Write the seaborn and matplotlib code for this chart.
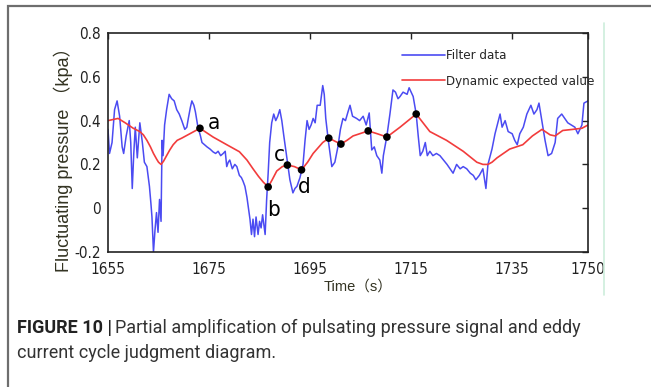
import os
import numpy as np
import pandas as pd
import seaborn as sns
import matplotlib
matplotlib.use("Agg")
import matplotlib.pyplot as plt
from matplotlib import font_manager as fm
from matplotlib.patches import Rectangle
from matplotlib.lines import Line2D

# filtered signal
t_filter = [1655.0, 1655.3, 1655.8, 1656.3, 1656.8, 1657.3, 1657.8, 1658.1, 1658.6, 1659.2,
            1659.5, 1659.8, 1660.1, 1660.4, 1660.8, 1661.3, 1661.8, 1662.2, 1662.7, 1663.2,
            1663.5, 1663.7, 1664.0, 1664.3, 1664.6, 1664.9, 1665.2, 1665.5, 1665.7, 1665.9,
            1666.2, 1666.6, 1667.1, 1667.6, 1668.1, 1668.6, 1669.1, 1669.6, 1670.2, 1670.6,
            1670.9, 1671.3, 1671.6, 1672.0, 1672.3, 1672.8, 1673.3, 1673.6, 1674.1, 1674.6,
            1675.2, 1675.8, 1676.3, 1676.8, 1677.3, 1677.8, 1678.2, 1678.5, 1678.8, 1679.1,
            1679.6, 1680.1, 1680.5, 1681.0, 1681.4, 1681.7, 1682.1, 1682.5, 1682.8, 1683.1,
            1683.4, 1683.7, 1684.0, 1684.3, 1684.7, 1685.0, 1685.3, 1685.6, 1686.1, 1686.4,
            1686.7, 1687.0, 1687.4, 1687.8, 1688.2, 1688.6, 1689.0, 1689.4, 1689.8, 1690.4,
            1691.0, 1691.6, 1692.0, 1692.4, 1693.0, 1693.6, 1694.0, 1694.4, 1694.8, 1695.2,
            1695.6, 1696.0, 1696.4, 1697.0, 1697.5, 1697.8, 1698.1, 1698.6, 1699.0, 1699.3,
            1699.9, 1700.5, 1701.0, 1701.5, 1702.0, 1702.5, 1702.9, 1703.4, 1704.2, 1704.8,
            1705.5, 1706.1, 1706.7, 1706.9, 1707.2, 1707.7, 1708.2, 1708.8, 1709.2, 1709.5,
            1710.2, 1710.8, 1711.4, 1711.9, 1712.4, 1712.8, 1713.4, 1714.2, 1714.6, 1715.4,
            1716.0, 1716.4, 1716.8, 1717.3, 1717.8, 1718.2, 1718.7, 1719.3, 1720.0, 1720.7,
            1721.4, 1722.1, 1722.7, 1723.3, 1724.0, 1724.7, 1725.3, 1726.0, 1726.7, 1727.3,
            1727.8, 1728.5, 1729.2, 1729.8, 1730.2, 1731.0, 1731.6, 1732.6, 1733.0, 1733.6,
            1734.2, 1735.0, 1735.5, 1736.0, 1736.5, 1737.2, 1737.9, 1738.7, 1739.3, 1739.9,
            1740.3, 1740.8, 1741.5, 1742.1, 1742.8, 1743.5, 1744.0, 1744.8, 1745.4, 1746.0,
            1746.7, 1747.4, 1748.0, 1748.8, 1749.2, 1750.0]
p_filter = [0.36, 0.25, 0.30, 0.45, 0.49, 0.42, 0.28, 0.25, 0.33, 0.40,
            0.30, 0.09, 0.25, 0.37, 0.23, 0.39, 0.30, 0.21, 0.19, 0.10,
            0.02, -0.04, -0.20, -0.10, -0.02, -0.11, 0.04, -0.06, 0.31, 0.24,
            0.38, 0.45, 0.52, 0.50, 0.49, 0.45, 0.43, 0.40, 0.36, 0.37,
            0.41, 0.46, 0.49, 0.47, 0.44, 0.37, 0.33, 0.30, 0.29, 0.28,
            0.27, 0.257, 0.25, 0.26, 0.24, 0.25, 0.26, 0.19, 0.21, 0.22,
            0.18, 0.20, 0.19, 0.15, 0.14, 0.125, 0.10, 0.05, 0.00, -0.05,
            -0.12, -0.05, -0.13, -0.04, -0.12, -0.06, -0.09, -0.03, -0.12, 0.04,
            0.16, 0.30, 0.39, 0.43, 0.40, 0.42, 0.45, 0.40, 0.33, 0.23,
            0.13, 0.07, 0.09, 0.10, 0.14, 0.20, 0.31, 0.40, 0.36, 0.38,
            0.41, 0.39, 0.47, 0.47, 0.56, 0.52, 0.41, 0.31, 0.24, 0.19,
            0.21, 0.28, 0.36, 0.41, 0.40, 0.44, 0.47, 0.42, 0.41, 0.40,
            0.42, 0.38, 0.435, 0.37, 0.266, 0.28, 0.24, 0.22, 0.16, 0.24,
            0.33, 0.43, 0.54, 0.53, 0.50, 0.51, 0.53, 0.52, 0.55, 0.51,
            0.43, 0.33, 0.24, 0.26, 0.30, 0.24, 0.26, 0.24, 0.25, 0.24,
            0.22, 0.20, 0.18, 0.16, 0.20, 0.18, 0.19, 0.18, 0.16, 0.15,
            0.13, 0.15, 0.18, 0.09, 0.20, 0.27, 0.34, 0.43, 0.37, 0.40,
            0.35, 0.34, 0.31, 0.29, 0.34, 0.37, 0.43, 0.47, 0.43, 0.45,
            0.48, 0.41, 0.31, 0.24, 0.25, 0.30, 0.41, 0.43, 0.41, 0.39,
            0.38, 0.37, 0.34, 0.38, 0.48, 0.49]

# dynamic expected value
t_expect = [1655.0, 1656.0, 1657.0, 1658.4, 1660.0, 1661.3, 1662.0, 1662.7, 1663.4, 1664.0,
            1664.6, 1665.0, 1665.5, 1666.0, 1666.6, 1667.2, 1667.9, 1668.7, 1669.6, 1671.2,
            1673.2, 1675.8, 1678.5, 1681.0, 1682.5, 1683.7, 1684.8, 1685.7, 1686.7, 1687.5,
            1688.4, 1689.5, 1690.5, 1691.9, 1693.3, 1694.5, 1695.6, 1697.5, 1698.7, 1700.0,
            1701.1, 1702.3, 1703.5, 1706.5, 1708.3, 1710.2, 1712.8, 1716.0, 1718.7, 1722.0,
            1725.3, 1728.0, 1729.2, 1730.2, 1731.0, 1732.0, 1734.5, 1737.1, 1739.0, 1740.9,
            1742.5, 1743.5, 1745.0, 1747.0, 1748.8, 1750.0]
p_expect = [0.40, 0.405, 0.41, 0.39, 0.365, 0.35, 0.335, 0.31, 0.28, 0.25,
            0.225, 0.21, 0.20, 0.215, 0.24, 0.265, 0.29, 0.31, 0.32, 0.34,
            0.365, 0.325, 0.29, 0.258, 0.22, 0.18, 0.145, 0.12, 0.097, 0.13,
            0.17, 0.19, 0.197, 0.19, 0.175, 0.21, 0.25, 0.30, 0.32, 0.305,
            0.293, 0.31, 0.33, 0.353, 0.34, 0.325, 0.37, 0.43, 0.35, 0.31,
            0.26, 0.21, 0.20, 0.20, 0.21, 0.23, 0.27, 0.29, 0.33, 0.36,
            0.335, 0.33, 0.355, 0.36, 0.365, 0.38]

# crossing points
t_cross = [1673.2, 1686.7, 1690.5, 1693.3, 1698.7, 1701.1, 1706.5, 1710.2, 1716.0]
p_cross = [0.365, 0.097, 0.197, 0.175, 0.32, 0.293, 0.353, 0.325, 0.43]
cross_labels = ["a", "b", "c", "d", "", "", "", "", ""]
label_offsets = [(14, 5), (5, -23), (-8, 10), (3, -17), None, None, None, None, None]

x_ticks = [1655, 1675, 1695, 1715, 1735, 1750]
y_ticks = [-0.2, 0, 0.2, 0.4, 0.6, 0.8]
y_ticklabels = ["-0.2", "0", "0.2", "0.4", "0.6", "0.8"]

sns.set_style("white")
plt.rcParams["font.family"] = ["Liberation Sans", "DejaVu Sans"]

# look for a condensed face for the MATLAB-like labels
narrow_path = None
for f in fm.fontManager.ttflist:
    base = os.path.basename(f.fname)
    if base in ("LiberationSansNarrow-Regular.ttf", "DejaVuSansCondensed.ttf"):
        narrow_path = f.fname
        break
if narrow_path:
    tick_fp = fm.FontProperties(fname=narrow_path, size=11)
    leg_fp = fm.FontProperties(fname=narrow_path, size=9.5)
    lab_fp = fm.FontProperties(fname=narrow_path, size=16)
else:
    tick_fp = fm.FontProperties(family="Liberation Sans", size=10.5)
    leg_fp = fm.FontProperties(family="Liberation Sans", size=9)
    lab_fp = fm.FontProperties(family="Liberation Sans", size=14)

fig = plt.figure(figsize=(6.51, 3.87), dpi=100)
ax = fig.add_axes([0.1659, 0.3488, 0.7373, 0.5659])

filt = pd.DataFrame({"t": t_filter, "p": p_filter})
expv = pd.DataFrame({"t": t_expect, "p": p_expect})
pts = pd.DataFrame({"t": t_cross, "p": p_cross})

sns.lineplot(data=filt, x="t", y="p", ax=ax, color="#4b4bf2", lw=1.1, sort=False)
sns.lineplot(data=expv, x="t", y="p", ax=ax, color="#f23c3c", lw=1.2, sort=False)
sns.scatterplot(data=pts, x="t", y="p", ax=ax, color="black", s=30, edgecolor="none", zorder=5)

for tx, py, lab, off in zip(t_cross, p_cross, cross_labels, label_offsets):
    if lab:
        ax.annotate(lab, (tx, py), xytext=off, textcoords="offset pixels",
                    fontproperties=lab_fp, color="black", va="center", ha="center")

ax.set_xlim(1655, 1750)
ax.set_ylim(-0.2, 0.8)
ax.set_xticks(x_ticks)
ax.set_yticks(y_ticks)
ax.set_yticklabels(y_ticklabels)
ax.tick_params(direction="in", length=4, width=1, top=True, right=True,
               colors="#222222", pad=5)
ax.tick_params(axis="x", pad=7)
for lbl in ax.get_xticklabels() + ax.get_yticklabels():
    lbl.set_fontproperties(tick_fp)
for s in ax.spines.values():
    s.set_color("#222222")
    s.set_linewidth(1.2)

ax.set_xlabel("Time（s）", fontsize=10.5, color="#333322",
              family=["Liberation Sans", "Noto Sans CJK SC"])
ax.xaxis.set_label_coords(0.52, -0.128)
ax.set_ylabel("Fluctuating pressure （kpa）", fontsize=13, color="#333322",
              family=["Liberation Sans", "Noto Sans CJK SC"])
ax.yaxis.set_label_coords(-0.072, 0.443)

handles = [Line2D([], [], color="#4b4bf2", lw=1.2), Line2D([], [], color="#f23c3c", lw=1.2)]
leg_px = leg_fp.get_size_in_points() * 100 / 72
ax.legend(handles, ["Filter data", "Dynamic expected value"], loc="upper left",
          bbox_to_anchor=(0.602, 0.95), frameon=False, prop=leg_fp,
          handlelength=43 / leg_px, handletextpad=0.05, labelspacing=0.95, borderaxespad=0)

# outer figure frame and side line
fig.add_artist(Rectangle((8 / 651, -0.1), 1.1, 1.1 - 6 / 387, transform=fig.transFigure,
                         fill=False, edgecolor="#6e6e6e", lw=1.6))
fig.add_artist(Line2D([604 / 651, 604 / 651], [1 - 23 / 387, 1 - 295 / 387],
                      transform=fig.transFigure, color="#cdeedb", lw=1.2))

# caption
cap_font = ["Roboto", "DejaVu Sans"]
bold = fig.text(17 / 651, 1 - 328 / 387, "FIGURE 10 |", fontsize=13, fontweight="bold",
                color="#222222", va="center", ha="left", family=cap_font)
fig.canvas.draw()
bb = bold.get_window_extent(renderer=fig.canvas.get_renderer())
fig.text(bb.x1 / 651 + 3 / 651, 1 - 328 / 387,
         "Partial amplification of pulsating pressure signal and eddy",
         fontsize=13, color="#333333", va="center", ha="left", family=cap_font)
fig.text(17 / 651, 1 - 353 / 387, "current cycle judgment diagram.",
         fontsize=13, color="#333333", va="center", ha="left", family=cap_font)

fig.savefig("out.png", dpi=100)
